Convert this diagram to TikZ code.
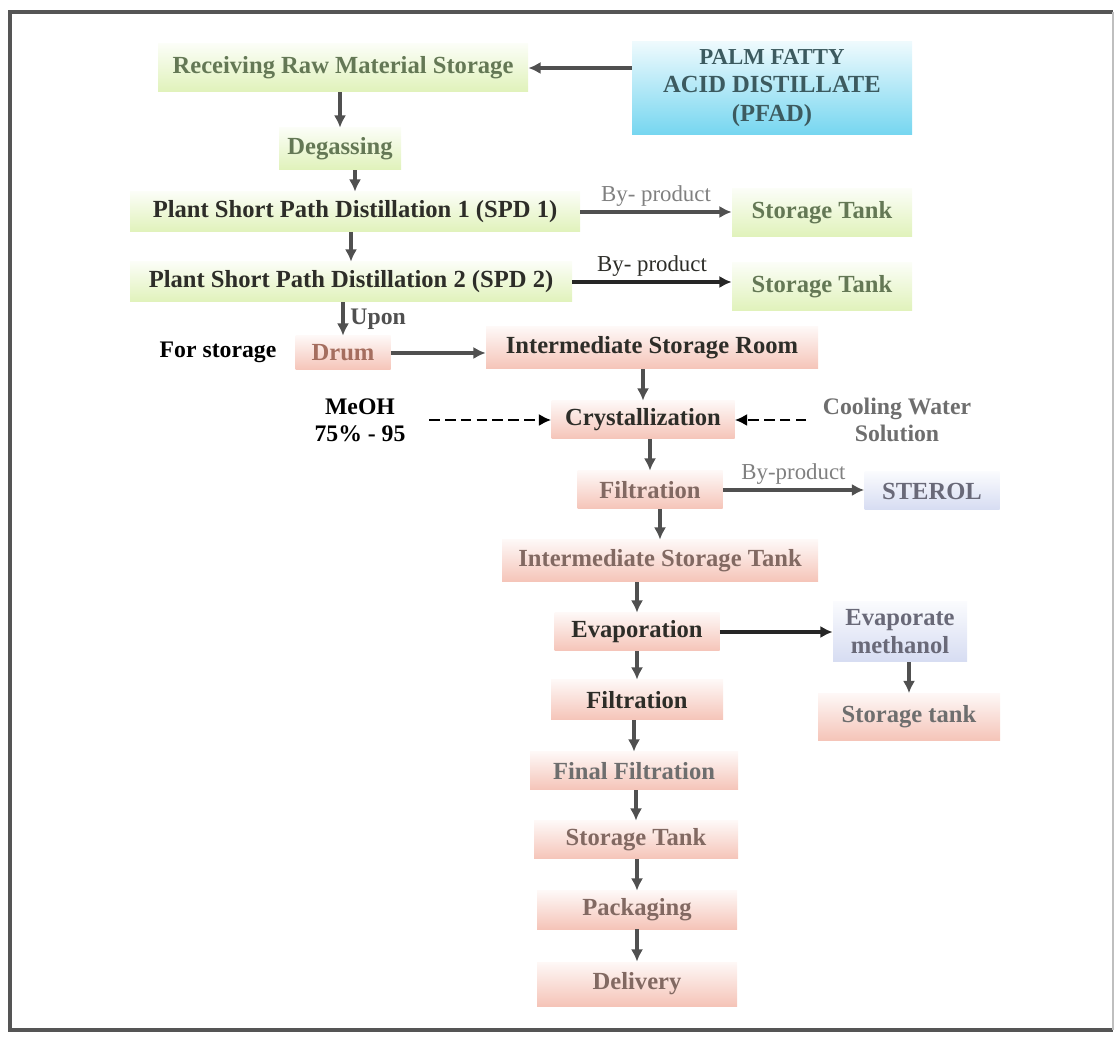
\documentclass[tikz,border=0pt]{standalone}
\usepackage{fontspec}
\setmainfont{Liberation Serif}
\usetikzlibrary{arrows.meta, positioning, calc}
\definecolor{greenbox}{RGB}{224,242,186}
\definecolor{pinkbox}{RGB}{245,196,184}
\definecolor{cyanbox}{RGB}{118,214,240}
\definecolor{lilacbox}{RGB}{214,220,242}
\definecolor{greentext}{RGB}{100,120,85}
\definecolor{darktext}{RGB}{45,45,40}
\definecolor{tealtext}{RGB}{60,90,95}
\definecolor{drumtext}{RGB}{165,110,95}
\definecolor{browntext}{RGB}{130,105,98}
\definecolor{graytext}{RGB}{110,110,110}
\definecolor{lilactext}{RGB}{105,105,120}
\definecolor{arrowgray}{RGB}{80,80,80}
\definecolor{framegray}{RGB}{85,85,85}

\begin{document}
\begin{tikzpicture}[x=0.02cm, y=-0.02cm,
    box/.style={align=center, inner sep=0pt, font=\fontsize{14}{16}\selectfont\bfseries},
    note/.style={align=center, font=\fontsize{13.5}{15.5}\selectfont\bfseries},
    bynote/.style={font=\fontsize{13}{15}\selectfont, inner sep=2pt},
    flow/.style={-{Latex[length=7pt,width=7pt]}, line width=1.8pt, arrowgray},
    feed/.style={-{Latex[length=7pt,width=7pt]}, line width=1.5pt, dash pattern=on 6pt off 3pt, black}]

    \useasboundingbox (0,0) rectangle (1117,1040);
    % frame
    \draw[framegray, line width=2.4pt] (1113,12) -- (10,12) -- (10,1030) -- (1113,1030);
    \draw[gray!50, line width=0.8pt] (1113,12) -- (1113,1030);

    % boxes
    \foreach \x/\y/\w/\h/\nm/\clr/\tclr/\lbl in {
        343/68/370/48/recv/greenbox/greentext/{Receiving Raw Material Storage},
        340/149/122/42/degas/greenbox/greentext/{Degassing},
        355/212/450/40/spd1/greenbox/darktext/{Plant Short Path Distillation 1 (SPD 1)},
        351/282/442/40/spd2/greenbox/darktext/{Plant Short Path Distillation 2 (SPD 2)},
        822/213/180/48/tank1/greenbox/greentext/{Storage Tank},
        822/287/180/48/tank2/greenbox/greentext/{Storage Tank},
        772/88/280/93/pfad/cyanbox/tealtext/{\fontsize{13}{15}\selectfont PALM FATTY\\ACID DISTILLATE\\(PFAD)},
        343/353/95/34/drum/pinkbox/drumtext/{Drum},
        652/348/332/42/isr/pinkbox/darktext/{Intermediate Storage Room},
        643/420/183/38/cryst/pinkbox/darktext/{Crystallization},
        650/490/145/38/filt1/pinkbox/browntext/{Filtration},
        932/491/135/38/sterol/lilacbox/lilactext/{STEROL},
        660/561/316/42/ist/pinkbox/browntext/{Intermediate Storage Tank},
        637/632/165/38/evap/pinkbox/darktext/{Evaporation},
        900/632/134/60/evmeth/lilacbox/lilactext/{Evaporate\\methanol},
        909/717/182/47/mtank/pinkbox/graytext/{Storage tank},
        637/700/172/40/filt2/pinkbox/darktext/{Filtration},
        634/771/208/38/ffilt/pinkbox/graytext/{Final Filtration},
        636/840/204/38/stank/pinkbox/browntext/{Storage Tank},
        637/910/200/38/pack/pinkbox/browntext/{Packaging},
        637/984/200/44/deliv/pinkbox/browntext/{Delivery}}
    {
        \node[box, minimum width=\w*0.02cm, minimum height=\h*0.02cm,
              top color=\clr!12!white, bottom color=\clr, text=\tclr] (\nm) at (\x,\y) {\lbl};
    }

    % side texts
    \node[note] (forstor) at (218,352) {For storage};
    \node[note] (meoh) at (360,420) {MeOH\\75\% - 95};
    \node[note, text=graytext] (cool) at (897,420) {Cooling Water\\Solution};

    % main flow
    \foreach \a/\b in {recv/degas, degas/spd1, spd1/spd2, isr/cryst, cryst/filt1, filt1/ist,
                       ist/evap, evap/filt2, filt2/ffilt, ffilt/stank, stank/pack, pack/deliv, evmeth/mtank}
        \draw[flow] (\a.south -| \b) -- (\b.north);
    \draw[flow] (spd2.south -| drum) -- (drum.north) node[midway, right, note] (upon) {Upon};

    % side flows
    \draw[flow, line width=2.6pt] (pfad.west |- recv) -- (recv.east);
    \draw[flow] (spd1.east) -- (tank1.west |- spd1.east)
        node[midway, above, bynote, text=gray] (by1) {By- product};
    \draw[flow, black!85] (spd2.east) -- (tank2.west |- spd2.east)
        node[midway, above, bynote, text=darktext] (by2) {By- product};
    \draw[flow] (drum.east) -- (isr.west |- drum.east);
    \draw[feed] ([xshift=10pt]meoh.east) -- (cryst.west);
    \draw[feed] ([xshift=-6pt]cool.west) -- (cryst.east);
    \draw[flow] (filt1.east) -- (sterol.west |- filt1.east)
        node[midway, above, bynote, text=gray] (by3) {By-product};
    \draw[flow, black!85] (evap.east) -- (evmeth.west |- evap.east);
\end{tikzpicture}
\end{document}
